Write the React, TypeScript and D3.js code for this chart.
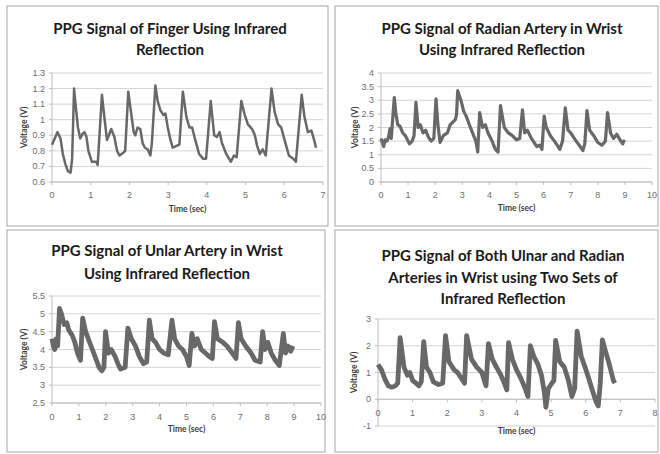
import React from "react";
import * as d3 from "d3";

// [time (sec), voltage (V)]
const fingerSignal: [number, number][] = [
  [0.0, 0.84], [0.14, 0.92], [0.22, 0.88], [0.28, 0.78], [0.34, 0.72], [0.41, 0.67], [0.48, 0.66],
  [0.52, 0.75], [0.57, 1.2], [0.6, 1.12], [0.67, 0.95], [0.73, 0.88], [0.79, 0.91], [0.84, 0.92],
  [0.89, 0.89], [0.94, 0.8], [1.03, 0.73], [1.14, 0.73], [1.18, 0.71], [1.29, 1.16], [1.36, 1.0],
  [1.42, 0.87], [1.47, 0.9], [1.53, 0.94], [1.61, 0.89], [1.68, 0.8], [1.74, 0.77], [1.85, 0.79],
  [1.89, 0.8], [1.97, 1.18], [2.04, 1.05], [2.11, 0.92], [2.15, 0.9], [2.21, 0.95], [2.28, 0.94],
  [2.34, 0.85], [2.4, 0.82], [2.47, 0.81], [2.54, 0.77], [2.58, 0.85], [2.67, 1.22], [2.73, 1.12],
  [2.8, 1.06], [2.88, 1.03], [2.93, 1.04], [2.99, 0.95], [3.06, 0.87], [3.12, 0.82], [3.2, 0.83],
  [3.29, 0.84], [3.38, 1.18], [3.47, 1.02], [3.55, 0.95], [3.62, 0.95], [3.69, 0.88], [3.8, 0.78],
  [3.9, 0.75], [3.98, 0.75], [4.1, 1.12], [4.19, 0.9], [4.26, 0.89], [4.33, 0.92], [4.39, 0.85],
  [4.5, 0.78], [4.62, 0.73], [4.7, 0.77], [4.77, 0.76], [4.89, 1.12], [4.98, 1.03], [5.06, 0.97],
  [5.17, 0.94], [5.24, 0.9], [5.3, 0.83], [5.37, 0.78], [5.44, 0.81], [5.52, 0.77], [5.67, 1.2],
  [5.75, 1.05], [5.84, 0.97], [5.92, 0.95], [6.03, 0.85], [6.12, 0.77], [6.23, 0.75], [6.3, 0.73],
  [6.45, 1.16], [6.52, 1.02], [6.61, 0.92], [6.7, 0.93], [6.76, 0.88], [6.82, 0.82],
];

const radianSignal: [number, number][] = [
  [0.0, 1.6], [0.05, 1.45], [0.1, 1.3], [0.15, 1.55], [0.22, 1.5], [0.28, 1.65], [0.33, 1.95],
  [0.38, 1.6], [0.43, 2.3], [0.49, 3.1], [0.55, 2.5], [0.62, 2.1], [0.7, 2.05], [0.8, 1.8],
  [0.9, 1.7], [1.0, 1.5], [1.05, 1.4], [1.15, 1.5], [1.22, 1.7], [1.29, 2.92], [1.37, 2.0],
  [1.45, 2.1], [1.55, 1.8], [1.65, 1.9], [1.75, 1.65], [1.85, 1.5], [1.95, 1.6], [2.03, 3.05],
  [2.1, 2.1], [2.18, 1.45], [2.3, 1.7], [2.45, 1.8], [2.55, 2.1], [2.65, 2.2], [2.75, 2.3],
  [2.79, 2.5], [2.83, 3.35], [2.95, 3.0], [3.05, 2.6], [3.15, 2.4], [3.3, 2.0], [3.4, 1.75],
  [3.5, 1.5], [3.57, 1.1], [3.64, 2.55], [3.75, 2.0], [3.85, 2.1], [3.95, 1.8], [4.1, 1.5],
  [4.22, 1.2], [4.32, 1.1], [4.41, 2.8], [4.55, 2.0], [4.7, 1.8], [4.85, 1.7], [5.0, 1.55],
  [5.12, 1.6], [5.22, 2.65], [5.3, 1.8], [5.4, 1.9], [5.55, 1.6], [5.75, 1.3], [5.85, 1.35],
  [5.94, 1.2], [6.02, 2.42], [6.1, 2.0], [6.25, 1.7], [6.4, 1.5], [6.5, 1.35], [6.6, 1.2],
  [6.7, 1.5], [6.8, 2.72], [6.9, 1.9], [7.0, 1.8], [7.2, 1.5], [7.35, 1.3], [7.45, 1.15],
  [7.52, 1.4], [7.6, 2.62], [7.7, 1.9], [7.85, 1.7], [8.0, 1.45], [8.15, 1.35], [8.28, 1.5],
  [8.36, 2.55], [8.47, 1.8], [8.58, 1.6], [8.7, 1.75], [8.85, 1.5], [8.92, 1.4], [8.98, 1.55],
];

const ulnarSignal: [number, number][] = [
  [0.0, 4.3], [0.05, 4.1], [0.1, 4.0], [0.15, 4.3], [0.21, 4.1], [0.28, 5.15], [0.35, 5.0],
  [0.45, 4.7], [0.55, 4.75], [0.62, 4.55], [0.75, 4.4], [0.85, 4.2], [0.95, 3.9], [1.0, 3.8],
  [1.06, 3.7], [1.14, 4.88], [1.25, 4.5], [1.35, 4.3], [1.5, 4.0], [1.65, 3.7], [1.75, 3.5],
  [1.85, 3.4], [1.93, 3.5], [1.99, 4.5], [2.1, 3.9], [2.2, 4.0], [2.35, 3.8], [2.45, 3.6],
  [2.55, 3.45], [2.72, 3.5], [2.82, 4.6], [2.95, 4.3], [3.1, 4.1], [3.25, 3.8], [3.4, 3.6],
  [3.52, 3.65], [3.62, 4.82], [3.72, 4.3], [3.85, 4.2], [4.0, 4.0], [4.15, 3.9], [4.32, 3.85],
  [4.46, 4.82], [4.56, 4.3], [4.7, 4.1], [4.85, 4.0], [5.0, 3.8], [5.1, 3.55], [5.2, 4.45],
  [5.3, 4.1], [5.4, 4.3], [5.55, 4.0], [5.7, 3.9], [5.85, 3.8], [5.96, 3.75], [6.04, 4.78],
  [6.15, 4.3], [6.35, 4.2], [6.5, 4.1], [6.7, 3.9], [6.84, 3.75], [6.93, 4.75], [7.03, 4.3],
  [7.2, 4.1], [7.4, 3.9], [7.55, 3.7], [7.74, 3.65], [7.83, 4.5], [7.92, 4.0], [8.02, 4.2],
  [8.15, 3.9], [8.3, 3.7], [8.45, 3.55], [8.6, 4.45], [8.68, 3.9], [8.77, 4.1], [8.87, 3.95],
  [8.96, 4.1],
];

const bothSignal: [number, number][] = [
  [0.0, 1.3], [0.1, 1.1], [0.2, 0.75], [0.3, 0.5], [0.4, 0.45], [0.5, 0.5], [0.57, 0.6],
  [0.64, 2.3], [0.75, 1.2], [0.85, 0.9], [0.92, 1.0], [1.0, 0.7], [1.1, 0.6], [1.18, 0.5],
  [1.25, 0.65], [1.32, 2.15], [1.4, 1.2], [1.5, 1.0], [1.6, 0.65], [1.75, 0.55], [1.87, 0.6],
  [1.95, 2.38], [2.05, 1.4], [2.2, 1.1], [2.3, 1.0], [2.4, 0.8], [2.5, 0.6], [2.56, 2.38],
  [2.7, 1.5], [2.85, 1.2], [3.0, 1.0], [3.12, 0.5], [3.19, 2.08], [3.3, 1.5], [3.42, 1.2],
  [3.55, 0.9], [3.65, 0.6], [3.72, 0.35], [3.77, 2.12], [3.88, 1.5], [4.0, 1.1], [4.12, 0.8],
  [4.25, 0.4], [4.33, 0.1], [4.4, 2.0], [4.5, 1.6], [4.62, 1.3], [4.72, 0.9], [4.8, 0.3],
  [4.85, -0.3], [4.92, 0.4], [5.02, 0.6], [5.08, 0.7], [5.13, 2.2], [5.25, 1.4], [5.38, 1.2],
  [5.5, 0.7], [5.6, 0.1], [5.68, 0.4], [5.75, 2.55], [5.87, 1.6], [5.98, 1.2], [6.08, 0.8],
  [6.2, 0.3], [6.3, -0.1], [6.36, -0.25], [6.42, 0.6], [6.48, 2.22], [6.57, 1.8], [6.66, 1.4],
  [6.74, 1.0], [6.8, 0.7], [6.84, 0.6],
];

const fingerYTicks = [0.6, 0.7, 0.8, 0.9, 1, 1.1, 1.2, 1.3];
const fingerXTicks = [0, 1, 2, 3, 4, 5, 6, 7];
const radianYTicks = [0, 0.5, 1, 1.5, 2, 2.5, 3, 3.5, 4];
const radianXTicks = [0, 1, 2, 3, 4, 5, 6, 7, 8, 9, 10];
const ulnarYTicks = [2.5, 3, 3.5, 4, 4.5, 5, 5.5];
const ulnarXTicks = [0, 1, 2, 3, 4, 5, 6, 7, 8, 9, 10];
const bothYTicks = [-1, 0, 1, 2, 3];
const bothXTicks = [0, 1, 2, 3, 4, 5, 6, 7, 8];

const fingerTitle = ["PPG Signal of Finger Using Infrared", "Reflection"];
const radianTitle = ["PPG Signal of Radian Artery in Wrist", "Using Infrared Reflection"];
const ulnarTitle = ["PPG Signal of Unlar Artery in Wrist", "Using Infrared Reflection"];
const bothTitle = [
  "PPG Signal of Both Ulnar and Radian",
  "Arteries in Wrist using Two Sets of",
  "Infrared Reflection",
];

const xLabel = "Time (sec)";
const yLabel = "Voltage (V)";

const titleFont = "Lato, 'Open Sans', sans-serif";
const tickFont = "'Liberation Sans', Arial, sans-serif";

function Panel(props: any) {
  const { box, title, titleX, titleY, data, xDomain, xRange, yDomain, yRange,
    xTicks, yTicks, axisAt, tickLabelY, xTitleY, yTitleX, lineWidth } = props;

  const x = d3.scaleLinear().domain(xDomain).range(xRange);
  const y = d3.scaleLinear().domain(yDomain).range(yRange);
  const line = d3.line<[number, number]>().x(d => x(d[0])).y(d => y(d[1]));
  const axisY = y(axisAt);

  return (
    <g>
      <rect x={box[0]} y={box[1]} width={box[2]} height={box[3]} fill="#fff" stroke="#a6a6a6" />
      {title.map((t: string, i: number) => (
        <text key={t} x={titleX} y={titleY[i]} textAnchor="middle" dominantBaseline="central"
          fontFamily={titleFont} fontWeight="bold" fontSize={15} fill="#1a1a1a">{t}</text>
      ))}
      {/* gridlines */}
      {yTicks.map((v: number) => (
        <line key={"g" + v} x1={xRange[0]} x2={xRange[1]} y1={y(v)} y2={y(v)}
          stroke="#d4d4d4" strokeWidth={1} />
      ))}
      {/* y axis */}
      <line x1={xRange[0]} x2={xRange[0]} y1={yRange[0]} y2={yRange[1]} stroke="#bdbdbd" />
      {yTicks.map((v: number) => (
        <g key={"y" + v}>
          <line x1={xRange[0] - 3} x2={xRange[0]} y1={y(v)} y2={y(v)} stroke="#bdbdbd" />
          <text x={xRange[0] - 7} y={y(v)} textAnchor="end" dominantBaseline="central"
            fontFamily={tickFont} fontSize={9} fill="#6e6e6e">{String(v)}</text>
        </g>
      ))}
      {/* x axis */}
      <line x1={xRange[0]} x2={xRange[1]} y1={axisY} y2={axisY} stroke="#bdbdbd" />
      {xTicks.map((v: number) => (
        <g key={"x" + v}>
          <line x1={x(v)} x2={x(v)} y1={axisY} y2={axisY + 3} stroke="#bdbdbd" />
          <text x={x(v)} y={tickLabelY} textAnchor="middle" dominantBaseline="central"
            fontFamily={tickFont} fontSize={9} fill="#6e6e6e">{String(v)}</text>
        </g>
      ))}
      <path d={line(data) || ""} fill="none" stroke="#686868" strokeWidth={lineWidth}
        strokeLinejoin="round" />
      <text x={(xRange[0] + xRange[1]) / 2} y={xTitleY} textAnchor="middle" dominantBaseline="central"
        fontFamily={titleFont} fontWeight="bold" fontSize={8.5} fill="#404040">{xLabel}</text>
      <text transform={`translate(${yTitleX},${(yRange[0] + yRange[1]) / 2}) rotate(-90)`}
        textAnchor="middle" dominantBaseline="central"
        fontFamily={titleFont} fontWeight="bold" fontSize={8.5} fill="#404040">{yLabel}</text>
    </g>
  );
}

export default function App() {
  return (
    <svg width={660} height={454} style={{ position: "absolute", left: 0, top: 0, background: "#fff" }}>
      <Panel box={[7, 6, 321, 220]} title={fingerTitle} titleX={170} titleY={[28, 49]}
        data={fingerSignal} xDomain={[0, 7]} xRange={[52, 323]} yDomain={[0.6, 1.3]} yRange={[182, 73]}
        xTicks={fingerXTicks} yTicks={fingerYTicks} axisAt={0.6} tickLabelY={195} xTitleY={209}
        yTitleX={24} lineWidth={2.5} />
      <Panel box={[335, 6, 323, 220]} title={radianTitle} titleX={502} titleY={[28, 49]}
        data={radianSignal} xDomain={[0, 10]} xRange={[381, 652]} yDomain={[0, 4]} yRange={[182, 73]}
        xTicks={radianXTicks} yTicks={radianYTicks} axisAt={0} tickLabelY={195} xTitleY={208}
        yTitleX={355} lineWidth={3.2} />
      <Panel box={[7, 230, 318, 222]} title={ulnarTitle} titleX={167} titleY={[250, 273]}
        data={ulnarSignal} xDomain={[0, 10]} xRange={[52, 321]} yDomain={[2.5, 5.5]} yRange={[403, 296]}
        xTicks={ulnarXTicks} yTicks={ulnarYTicks} axisAt={2.5} tickLabelY={417} xTitleY={429}
        yTitleX={24} lineWidth={4.8} />
      <Panel box={[335, 230, 323, 222]} title={bothTitle} titleX={503} titleY={[255, 277, 298]}
        data={bothSignal} xDomain={[0, 8]} xRange={[378, 655]} yDomain={[-1, 3]} yRange={[426, 319]}
        xTicks={bothXTicks} yTicks={bothYTicks} axisAt={0} tickLabelY={413} xTitleY={431}
        yTitleX={354} lineWidth={4.8} />
    </svg>
  );
}
